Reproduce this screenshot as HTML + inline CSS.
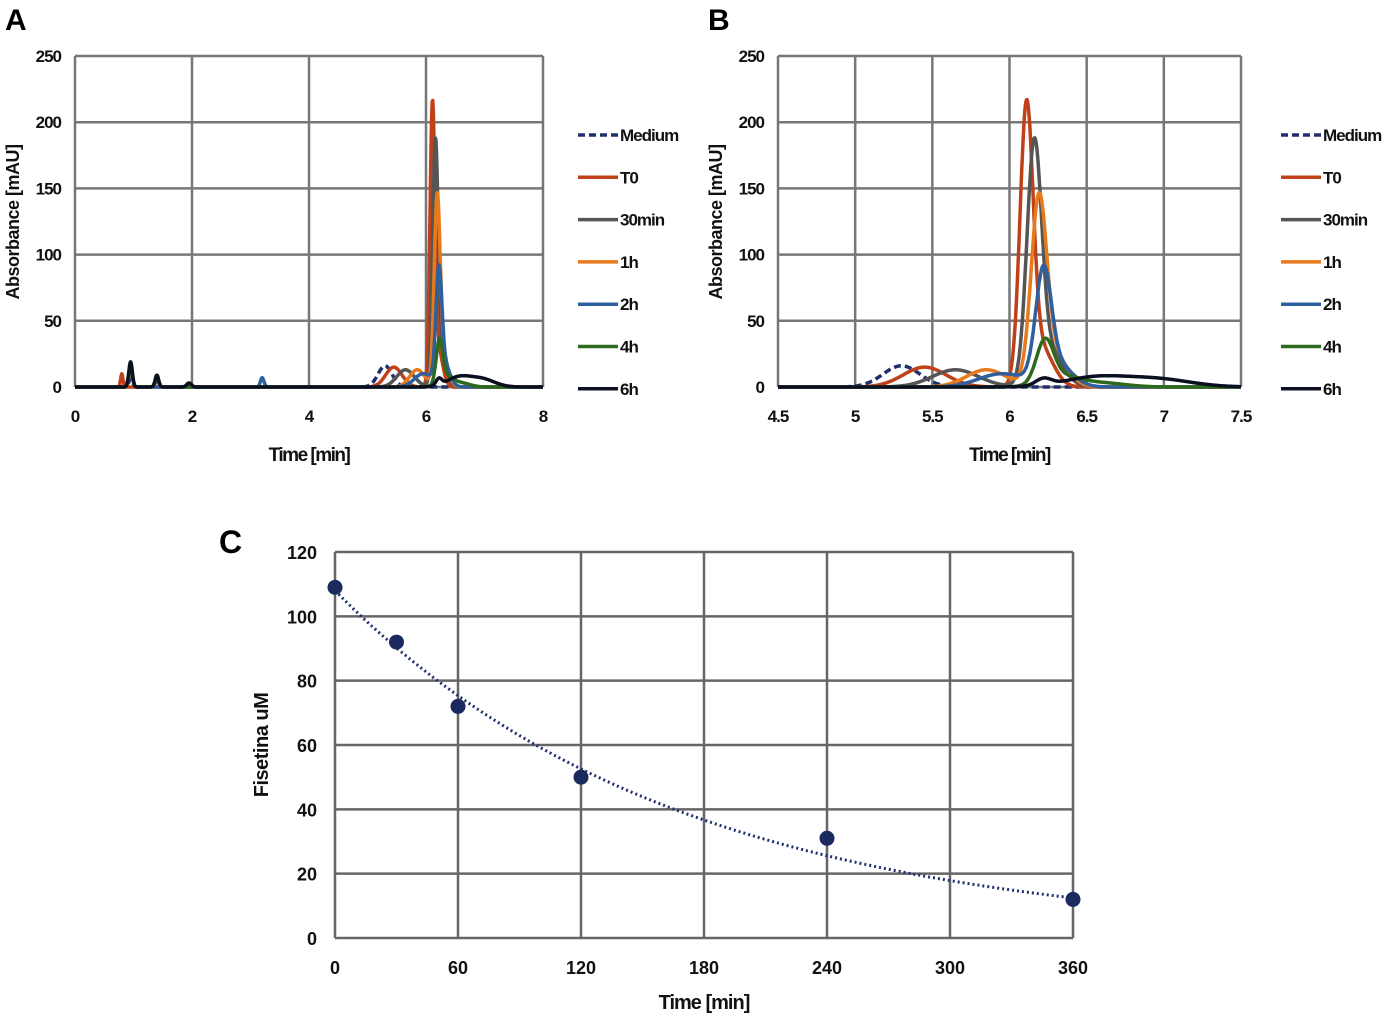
<!DOCTYPE html>
<html><head><meta charset="utf-8">
<style>
html,body{margin:0;padding:0;background:#fff;}
svg{display:block;font-family:"Liberation Sans",Arial,sans-serif;font-weight:bold;}
</style></head>
<body>
<svg id="fig" width="1400" height="1019" viewBox="0 0 1400 1019">
<defs>
<clipPath id="clipA"><rect x="75" y="40" width="468" height="350"/></clipPath>
<clipPath id="clipB"><rect x="778" y="40" width="463" height="350"/></clipPath>
</defs>
<g id="gA"></g>
<g id="gB"></g>
<g id="gC"></g>
</svg>
<script>
// ----- chromatogram data: each series = list of gaussian peaks [center(min), height(mAU), sigma(min)]
const seriesNames = ["Medium","T0","30min","1h","2h","4h","6h"];
const seriesColors = ["#1f2f6e","#c0401a","#555555","#e87a1e","#2e5f9e","#2e6a1e","#0b1020"];
const peaksMedium = [[5.3,16,0.12],[0.95,6,0.03]];
const peaksT0 = [[6.11,201,0.042],[6.2,30,0.08],[5.45,15,0.14],[0.8,10,0.02],[1.4,5,0.03]];
const peaks30 = [[6.16,171,0.047],[6.25,28,0.09],[5.65,13,0.15],[0.95,15,0.03],[1.4,6,0.03]];
const peaks1h = [[6.19,131,0.05],[6.28,25,0.09],[5.85,13,0.13],[0.95,14,0.03],[1.95,3,0.04]];
const peaks2h = [[6.22,77,0.05],[6.3,18,0.1],[5.95,10,0.15],[0.95,16,0.03],[3.2,7,0.03]];
const peaks4h = [[6.23,31,0.055],[6.33,8,0.12],[6.6,3,0.15],[0.95,17,0.03],[1.4,8,0.03]];
const peaks6h = [[6.22,5,0.05],[6.55,7,0.2],[6.95,6,0.22],[0.95,19,0.03],[1.4,9,0.03],[1.95,3,0.04]];
const allPeaks = [peaksMedium,peaksT0,peaks30,peaks1h,peaks2h,peaks4h,peaks6h];
const ticksA = [0,2,4,6,8];
const ticksB = [4.5,5,5.5,6,6.5,7,7.5];
const ticksY = [0,50,100,150,200,250];
// ----- panel C data
const timesC = [0,30,60,120,240,360];
const fisetinC = [109,92,72,50,31,12];
const fitA = [108];
const fitK = [0.006];
const ticksCX = [0,60,120,180,240,300,360];
const ticksCY = [0,20,40,60,80,100,120];

const NS="http://www.w3.org/2000/svg";
function mk(tag,attrs,parent){const e=document.createElementNS(NS,tag);for(const k in attrs)e.setAttribute(k,attrs[k]);parent.appendChild(e);return e;}
function sig(peaks,t){let s=0;for(const p of peaks)s+=p[1]*Math.exp(-0.5*Math.pow((t-p[0])/p[2],2));return s;}

function chrom(g,x0,x1,tmin,tmax,xt,clip,labelPrefix,legX){
  const y0=387,y1=56;
  const sx=t=>x0+(t-tmin)/(tmax-tmin)*(x1-x0);
  const sy=v=>y0-(v/250)*(y0-y1);
  for(const t of xt){
    const l=mk('line',{x1:sx(t),x2:sx(t),y1:y1,y2:y0,stroke:'#777','stroke-width':2.5},g);
    
    
    const tx=mk('text',{x:sx(t),y:422,'text-anchor':'middle','font-size':17,fill:'#111','letter-spacing':'-1'},g);
    tx.textContent=String(t);
    
    
  }
  for(const v of ticksY){
    const l=mk('line',{x1:x0,x2:x1,y1:sy(v),y2:sy(v),stroke:'#777','stroke-width':2.5},g);
    
    
    const tx=mk('text',{x:x0-14,y:sy(v)+6,'text-anchor':'end','font-size':17,fill:'#111','letter-spacing':'-1'},g);
    tx.textContent=String(v);
    
    
  }
  const lg=mk('g',{'clip-path':'url(#'+clip+')'},g);
  
  
  const N=900;
  for(let i=0;i<allPeaks.length;i++){
    let d='';
    for(let j=0;j<=N;j++){const t=tmin+(tmax-tmin)*j/N;d+=(j?'L':'M')+sx(t).toFixed(1)+','+sy(sig(allPeaks[i],t)).toFixed(1);}
    const p=mk('path',{d:d,fill:'none',stroke:seriesColors[i],'stroke-width':3.5,'stroke-linejoin':'round'},lg);
    if(i===0)p.setAttribute('stroke-dasharray','7,4');
    
    
  }
  const xl=mk('text',{x:(x0+x1)/2,y:461,'text-anchor':'middle','font-size':19,fill:'#111','letter-spacing':'-1.5'},g);
  xl.textContent='Time [min]';
  
  
  const yl=mk('text',{x:0,y:0,'text-anchor':'middle','font-size':18,fill:'#111','letter-spacing':'-0.5',transform:'translate('+(x0-56)+',222) rotate(-90)'},g);
  yl.textContent='Absorbance [mAU]';
  
  
  const pl=mk('text',{x:x0-70,y:30,'font-size':30,fill:'#000'},g);
  pl.textContent=labelPrefix;
  
  
  for(let i=0;i<seriesNames.length;i++){
    const yy=135+i*42.3;
    const le=mk('g',{},g);
    
    
    const ln=mk('line',{x1:legX,x2:legX+40,y1:yy,y2:yy,stroke:seriesColors[i],'stroke-width':3.5},le);
    if(i===0)ln.setAttribute('stroke-dasharray','7,4');
    const t=mk('text',{x:legX+42,y:yy+6,'font-size':17,fill:'#111','letter-spacing':'-1'},le);
    t.textContent=seriesNames[i];
  }
}
chrom(document.getElementById('gA'),75,543,0,8,ticksA,'clipA','A',578);
chrom(document.getElementById('gB'),778,1241,4.5,7.5,ticksB,'clipB','B',1281);

// panel C
(function(){
  const g=document.getElementById('gC');
  const x0=335,x1=1073,y0=938,y1=552;
  const sx=t=>x0+t/360*(x1-x0);
  const sy=v=>y0-v/120*(y0-y1);
  for(const t of ticksCX){
    const l=mk('line',{x1:sx(t),x2:sx(t),y1:y1,y2:y0,stroke:'#666','stroke-width':2.5},g);
    
    
    const tx=mk('text',{x:sx(t),y:974,'text-anchor':'middle','font-size':18,fill:'#111'},g);
    tx.textContent=String(t);
    
    
  }
  for(const v of ticksCY){
    const l=mk('line',{x1:x0,x2:x1,y1:sy(v),y2:sy(v),stroke:'#666','stroke-width':2.5},g);
    
    
    const tx=mk('text',{x:x0-18,y:sy(v)+7,'text-anchor':'end','font-size':18,fill:'#111'},g);
    tx.textContent=String(v);
    
    
  }
  let d='';
  for(let j=0;j<=200;j++){const t=360*j/200;d+=(j?'L':'M')+sx(t).toFixed(1)+','+sy(fitA[0]*Math.exp(-fitK[0]*t)).toFixed(1);}
  const tr=mk('path',{d:d,fill:'none',stroke:'#1f2f6e','stroke-width':3,'stroke-dasharray':'2,3'},g);
  
  
  for(let i=0;i<timesC.length;i++){
    const c=mk('circle',{cx:sx(timesC[i]),cy:sy(fisetinC[i]),r:7.5,fill:'#1a2a5e'},g);
    
    
  }
  const xl=mk('text',{x:704,y:1009,'text-anchor':'middle','font-size':20,fill:'#111','letter-spacing':'-1'},g);
  xl.textContent='Time [min]';
  
  
  const yl=mk('text',{x:0,y:0,'text-anchor':'middle','font-size':20,fill:'#111','letter-spacing':'-0.5',transform:'translate(268,745) rotate(-90)'},g);
  yl.textContent='Fisetina uM';
  
  
  const pl=mk('text',{x:219,y:553,'font-size':32,fill:'#000'},g);
  pl.textContent='C';
  
  
})();
</script>
</body></html>
